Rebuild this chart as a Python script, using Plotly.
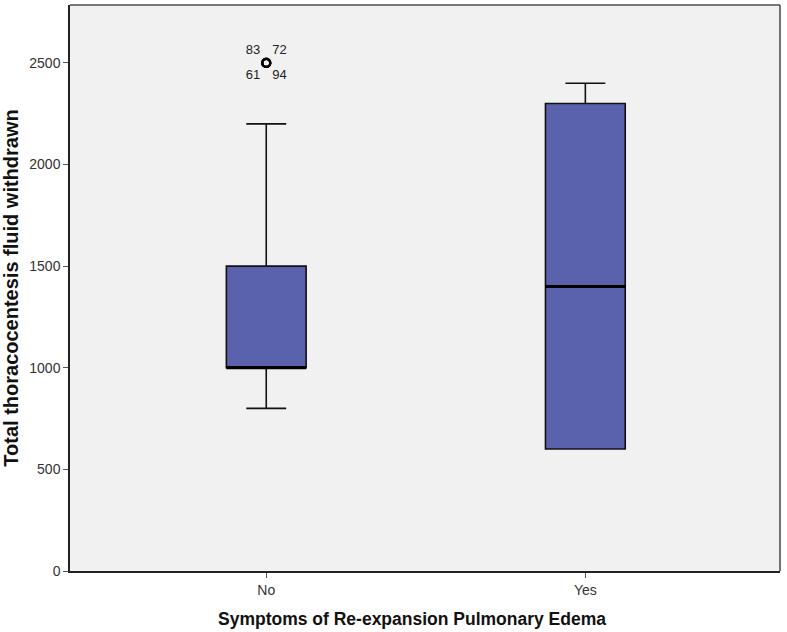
import plotly.graph_objects as go

# summary statistics
groups = ['No', 'Yes']
lower_whisker = [800, 600]
q1 = [1000, 600]
median = [1000, 1400]
q3 = [1500, 2300]
upper_whisker = [2200, 2400]

# outlying cases (group No)
outlier_group = ['No', 'No', 'No', 'No']
outlier_value = [2500, 2500, 2500, 2500]
outlier_case = ['83', '72', '61', '94']
outlier_textpos = ['top left', 'top right', 'bottom left', 'bottom right']

box_color = '#5a62ad'
box_width = 0.25

fig = go.Figure()
fig.add_trace(go.Box(
    x=groups, q1=q1, median=median, q3=q3,
    lowerfence=lower_whisker, upperfence=upper_whisker,
    fillcolor=box_color, line=dict(color='#111111', width=1.6),
    width=box_width, whiskerwidth=0.5, boxpoints=False,
    hoverinfo='skip', showlegend=False))

fig.add_trace(go.Scatter(
    x=outlier_group, y=outlier_value, mode='markers+text',
    text=outlier_case, textposition=outlier_textpos,
    textfont=dict(size=13, color='#222222', family='Liberation Sans, Arial'),
    marker=dict(symbol='circle-open', size=8, color='black', line=dict(width=2.2)),
    cliponaxis=False, showlegend=False))

# thick median lines, as in the original
for i, m in enumerate(median):
    fig.add_shape(type='line', xref='x', yref='y',
                  x0=i - box_width / 2, x1=i + box_width / 2, y0=m, y1=m,
                  line=dict(color='black', width=3))

fig.update_layout(
    width=787, height=632,
    margin=dict(l=70, r=7, t=5, b=61),
    paper_bgcolor='white', plot_bgcolor='#f1f1f1',
    font=dict(family='Liberation Sans, Arial', size=13, color='#222222'),
    xaxis=dict(
        range=[-0.615, 1.61], showgrid=False, zeroline=False, automargin=False,
        showline=True, linecolor='#222222', linewidth=1.5, mirror=False,
        ticks='outside', ticklen=5, tickcolor='#555555',
        tickfont=dict(size=14, color='#333333')),
    yaxis=dict(
        range=[0, 2785], tickvals=[0, 500, 1000, 1500, 2000, 2500],
        showgrid=False, zeroline=False, automargin=False,
        showline=True, linecolor='#222222', linewidth=1.5,
        ticks='outside', ticklen=5, tickcolor='#555555',
        tickfont=dict(size=14, color='#333333'),
        title=dict(text='<b>Total thoracocentesis fluid withdrawn</b>',
                   font=dict(size=20, color='#111111'), standoff=10)),
)

# x title sits a little left of the plot centre in the source
fig.add_annotation(text='<b>Symptoms of Re-expansion Pulmonary Edema</b>',
                   xref='paper', yref='paper', x=0.482, y=0, yshift=-48,
                   xanchor='center', yanchor='middle', showarrow=False,
                   font=dict(size=17.5, color='#111111'))

# light frame on top and right, like the source plot
fig.add_shape(type='line', xref='paper', yref='paper', x0=0, x1=1, y0=1, y1=1,
              line=dict(color='#777777', width=2))
fig.add_shape(type='line', xref='paper', yref='paper', x0=1, x1=1, y0=0, y1=1,
              line=dict(color='#444444', width=1.5))

# drop the browser's default page margin so the figure fills the window
fig.write_html('out.html', config={'displayModeBar': False},
               post_script="document.body.style.margin='0';")
